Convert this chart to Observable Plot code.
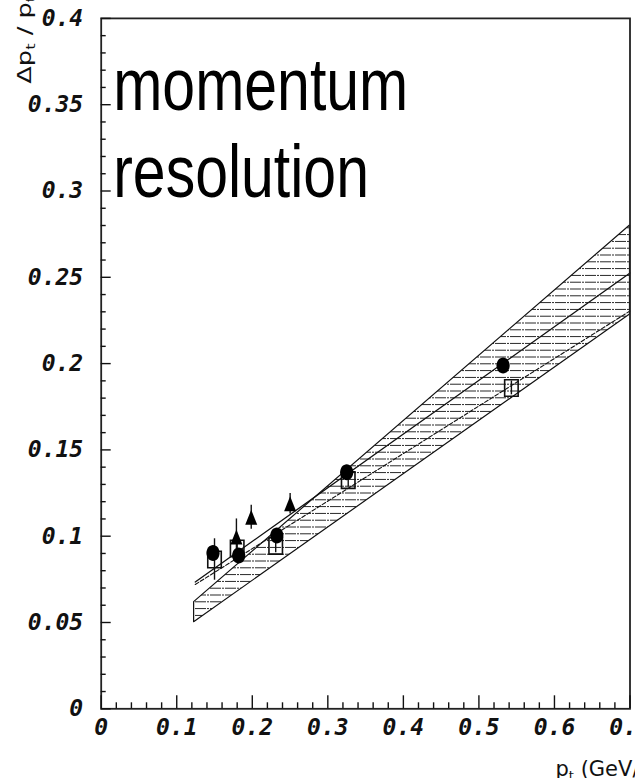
<!DOCTYPE html>
<html>
<head>
<meta charset="utf-8">
<script src="https://cdn.jsdelivr.net/npm/d3@7"></script>
<script src="https://cdn.jsdelivr.net/npm/@observablehq/plot@0.6"></script>
<style>
  html, body { margin: 0; padding: 0; background: #fff; }
  #chart { width: 635px; height: 778px; overflow: hidden; }
</style>
</head>
<body>
<div id="chart"></div>
<script>
// Measured resolution Δp_t/p_t versus p_t (GeV/c)
const circleX = [0.148, 0.182, 0.2325, 0.325, 0.532];
const circleY = [0.0902, 0.0888, 0.1004, 0.1371, 0.1989];

const squareX = [0.150, 0.180, 0.231, 0.327, 0.543];
const squareY = [0.0865, 0.0929, 0.0944, 0.1325, 0.1859];
const squareErr = [0.012, 0.004, 0.004, 0.004, 0.004];

const triangleX = [0.179, 0.1986, 0.2501];
const triangleY = [0.0995, 0.111, 0.1188];
const triangleErr = [0.0105, 0.007, 0.006];

// Linear fits and expected-resolution band
const fitX = [0.1245, 0.7];
const fitSolidY = [0.0735, 0.2525];
const fitDashedY = [0.072, 0.2305];

const bandX = [0.123, 0.7];
const bandLow = [0.0502, 0.2285];
const bandHigh = [0.0618, 0.2800];

// Axis ticks and texts
const xTicks = [0, 0.1, 0.2, 0.3, 0.4, 0.5, 0.6, 0.7];
const yTicks = [0, 0.05, 0.1, 0.15, 0.2, 0.25, 0.3, 0.35, 0.4];
const xMinor = d3.range(0, 0.7001, 0.02).filter(v => Math.abs(v * 10 - Math.round(v * 10)) > 1e-6);
const yMinor = d3.range(0, 0.4001, 0.01).filter(v => Math.abs(v * 20 - Math.round(v * 20)) > 1e-6);
const titleText = "momentum\nresolution";
const xTitle = "p_t (GeV/c)";
const yTitle = "Δp_t / p_t";

// Table forms for the marks
const circles = circleX.map((x, i) => ({x, y: circleY[i]}));
const squares = squareX.map((x, i) => ({x, y: squareY[i], e: squareErr[i]}));
const triangles = triangleX.map((x, i) => ({x, y: triangleY[i], e: triangleErr[i]}));
const fitSolid = fitX.map((x, i) => ({x, y: fitSolidY[i]}));
const fitDashed = fitX.map((x, i) => ({x, y: fitDashedY[i]}));
const band = bandX.map((x, i) => ({x, lo: bandLow[i], hi: bandHigh[i]}));

// Marker shapes (fixed pixel sizes)
const ellipse = (rx, ry) => ({
  draw(c) {
    const k = 0.5523;
    c.moveTo(rx, 0);
    c.bezierCurveTo(rx, ry * k, rx * k, ry, 0, ry);
    c.bezierCurveTo(-rx * k, ry, -rx, ry * k, -rx, 0);
    c.bezierCurveTo(-rx, -ry * k, -rx * k, -ry, 0, -ry);
    c.bezierCurveTo(rx * k, -ry, rx, -ry * k, rx, 0);
    c.closePath();
  }
});
const box = (w, h) => ({
  draw(c) {
    c.moveTo(-w / 2, -h / 2);
    c.lineTo(w / 2, -h / 2);
    c.lineTo(w / 2, h / 2);
    c.lineTo(-w / 2, h / 2);
    c.closePath();
  }
});
const tri = (w, h) => ({
  draw(c) {
    c.moveTo(0, -h / 2);
    c.lineTo(w / 2, h / 2);
    c.lineTo(-w / 2, h / 2);
    c.closePath();
  }
});

const tickFont = {
  fontFamily: "DejaVu Sans Mono",
  fontStyle: "italic",
  fontWeight: "600",
  fontSize: 23,
  fill: "#111"
};

// ticks point into the frame: shift each tick by its own length
const inY = (ticks, size) => Plot.axisY(ticks, {tickSize: size, dx: size, fill: "none", label: null, strokeWidth: 1.4, stroke: "#111"});
const inX = (ticks, size) => Plot.axisX(ticks, {tickSize: size, dy: -size, fill: "none", label: null, strokeWidth: 1.4, stroke: "#111"});

const svg = Plot.plot({
  width: 635,
  height: 778,
  marginLeft: 100.7,
  marginRight: 5.5,
  marginTop: 17.9,
  marginBottom: 69.7,
  style: {background: "#fff", color: "#111"},
  x: {domain: [0, 0.7], axis: null},
  y: {domain: [0, 0.4], axis: null},
  marks: [
    // hatched band with its outline
    Plot.areaY(band, {x: "x", y1: "lo", y2: "hi", fill: "url(#hatch)", stroke: "#111", strokeWidth: 1.2}),
    // fits
    Plot.line(fitSolid, {x: "x", y: "y", stroke: "#111", strokeWidth: 1.3}),
    Plot.line(fitDashed, {x: "x", y: "y", stroke: "#111", strokeWidth: 1.1, strokeDasharray: "4,2"}),
    // error bars
    Plot.ruleX(squares, {x: "x", y1: d => d.y - d.e, y2: d => d.y + d.e, stroke: "#111", strokeWidth: 1.4}),
    Plot.ruleX(triangles, {x: "x", y1: d => d.y - d.e, y2: d => d.y + d.e, stroke: "#111", strokeWidth: 1.4}),
    // markers
    Plot.dot(squares, {x: "x", y: "y", symbol: box(13.5, 16.5), fill: "none", stroke: "#111", strokeWidth: 1.6}),
    Plot.dot(triangles, {x: "x", y: "y", symbol: tri(12, 15), fill: "#000", stroke: "none"}),
    Plot.dot(circles, {x: "x", y: "y", symbol: ellipse(6.6, 8), fill: "#000", stroke: "none"}),
    // frame
    Plot.frame({stroke: "#222", strokeWidth: 1.8}),
    // inward ticks
    inY(yTicks, 10),
    inY(yMinor, 5),
    inX(xTicks, 13),
    inX(xMinor, 6),
    // tick labels
    Plot.axisY(yTicks, {tickSize: 0, tickPadding: 18, label: null, tickFormat: d => String(d), ...tickFont}),
    Plot.axisX(xTicks, {tickSize: 0, tickPadding: 10, label: null, tickFormat: d => String(d), ...tickFont}),
    // axis titles
    Plot.text([xTitle], {
      text: d => d, frameAnchor: "bottom-left", textAnchor: "start", lineAnchor: "bottom",
      dx: 454.3, dy: 66.7, fontFamily: "DejaVu Sans", fontSize: 21, fill: "#111"
    }),
    Plot.text([yTitle], {
      text: d => d, frameAnchor: "top-left", textAnchor: "start", lineAnchor: "bottom", rotate: -90,
      dx: -70.7, dy: 65.1, fontFamily: "DejaVu Sans", fontSize: 19, fill: "#111"
    }),
    // in-plot title
    Plot.text([titleText], {
      text: d => d, frameAnchor: "top-left", textAnchor: "start", lineAnchor: "top",
      dx: 12, dy: 23.5, fontFamily: "Liberation Sans", fontSize: 59, lineHeight: 1.16, fill: "#000"
    })
  ]
});

const ns = "http://www.w3.org/2000/svg";

// horizontal dash-dot hatching for the band
const defs = document.createElementNS(ns, "defs");
defs.innerHTML = `
  <pattern id="hatch" patternUnits="userSpaceOnUse" width="15" height="6.8">
    <rect width="15" height="6.8" fill="#fff"/>
    <path d="M0,3.4H15" stroke="#222" stroke-width="1" stroke-dasharray="11,1,2,1"/>
  </pattern>`;
svg.insertBefore(defs, svg.firstChild);

// subscripted axis titles
function subscript(raw, parts, size, shift) {
  for (const t of svg.querySelectorAll("text")) {
    if (t.textContent !== raw) continue;
    t.textContent = "";
    let down = false;
    for (const [s, sub] of parts) {
      const ts = document.createElementNS(ns, "tspan");
      ts.textContent = s;
      if (sub) { ts.setAttribute("font-size", size); ts.setAttribute("dy", shift); down = true; }
      else if (down) { ts.setAttribute("dy", -shift); down = false; }
      t.appendChild(ts);
    }
    return t;
  }
}
subscript(xTitle, [["p", false], ["t", true], [" (GeV/c)", false]], 13, 4);
const yt = subscript(yTitle, [["Δp", false], ["t", true], [" / p", false], ["t", true]], 12, 4);

// stretch a mark's group vertically about a fixed screen row
function stretchY(el, y0, k) {
  const g = el.parentNode;
  const wrap = document.createElementNS(ns, "g");
  wrap.setAttribute("transform", `translate(0,${y0}) scale(1,${k}) translate(0,${-y0})`);
  g.parentNode.insertBefore(wrap, g);
  wrap.appendChild(g);
}
stretchY(yt, 83, 1.35);
for (const t of svg.querySelectorAll("text")) {
  if (t.textContent.startsWith("momentum")) stretchY(t, 17.9, 1.27);
}

document.getElementById("chart").appendChild(svg);
</script>
</body>
</html>
